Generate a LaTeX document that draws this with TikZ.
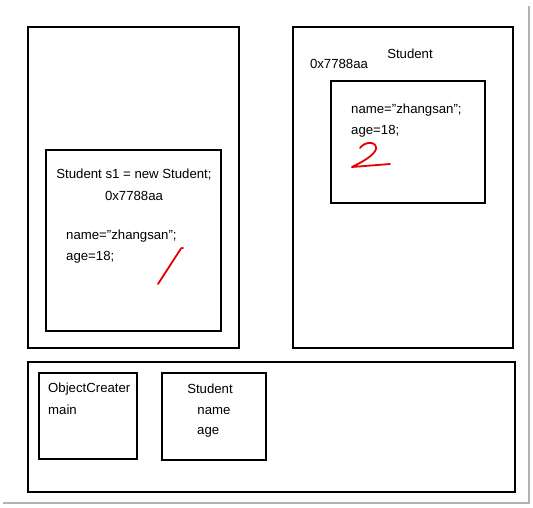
\documentclass[tikz,border=0pt]{standalone}
\usepackage{fontspec}
\setmainfont{Liberation Sans}
\usetikzlibrary{positioning}

\begin{document}
\begin{tikzpicture}[
    x=1pt, y=-1pt,
    font=\fontsize{13.2}{15}\selectfont,
    frame/.style={rectangle, draw=black, line width=1.7pt, inner sep=0pt, anchor=north west},
    code/.style={inner sep=0pt, anchor=west},
    codec/.style={inner sep=0pt},
    redmark/.style={draw=red!90!black, line width=1.8pt, line cap=round, line join=round},
    shadow/.style={draw=gray!60, line width=2.2pt}
]
\useasboundingbox (0,0) rectangle (533,507);

% Outer areas
\node[frame, minimum width=211pt, minimum height=321pt] (stack) at (27,26) {};
\node[frame, minimum width=220pt, minimum height=321pt] (heap) at (292,26) {};
\node[frame, minimum width=487pt, minimum height=130pt] (method) at (27,361) {};

% Inner boxes
\node[frame, minimum width=175pt, minimum height=181pt] (frameA) at (45,149) {};
\node[frame, minimum width=154pt, minimum height=122pt] (obj) at (330,80) {};
\node[frame, minimum width=98pt, minimum height=86pt] (creater) at (38,372) {};
\node[frame, minimum width=104pt, minimum height=87pt] (cls) at (161,372) {};

% Texts in stack frame
\node[codec] (newline) at (134,175) {Student s1 = new Student;};
\node[codec, below=10pt of newline] (addrA) {0x7788aa};
\node[code] (nameA) at (66,236) {name="zhangsan";};
\node[code, below=9pt of nameA.south west, anchor=north west] (ageA) {age=18;};

% Texts in heap
\node[codec] (clsB) at (410,54) {Student};
\node[codec] (addrB) at (339,64) {0x7788aa};
\node[code] (nameB) at (351,110) {name="zhangsan";};
\node[code, below=9pt of nameB.south west, anchor=north west] (ageB) {age=18;};

% Texts in method area
\node[code] (objc) at (48,389) {ObjectCreater};
\node[code, below=9pt of objc.south west, anchor=north west] (mainc) {main};
\node[codec] (clsC) at (210,389) {Student};
\node[codec] (nameC) at (214,411) {name};
\node[code] (ageC) at (197,432) {age};

% Hand-drawn marks
\draw[redmark] (158,284) -- (180,250) .. controls (181,248) .. (183,248);
\draw[redmark] (360,148) .. controls (365,141) and (377,141) .. (376,149)
    .. controls (374,156) and (360,163) .. (352,167) -- (390,164);

% Screenshot shadow
\draw[shadow] (3,503) -- (529,503) -- (529,6);
\end{tikzpicture}
\end{document}
